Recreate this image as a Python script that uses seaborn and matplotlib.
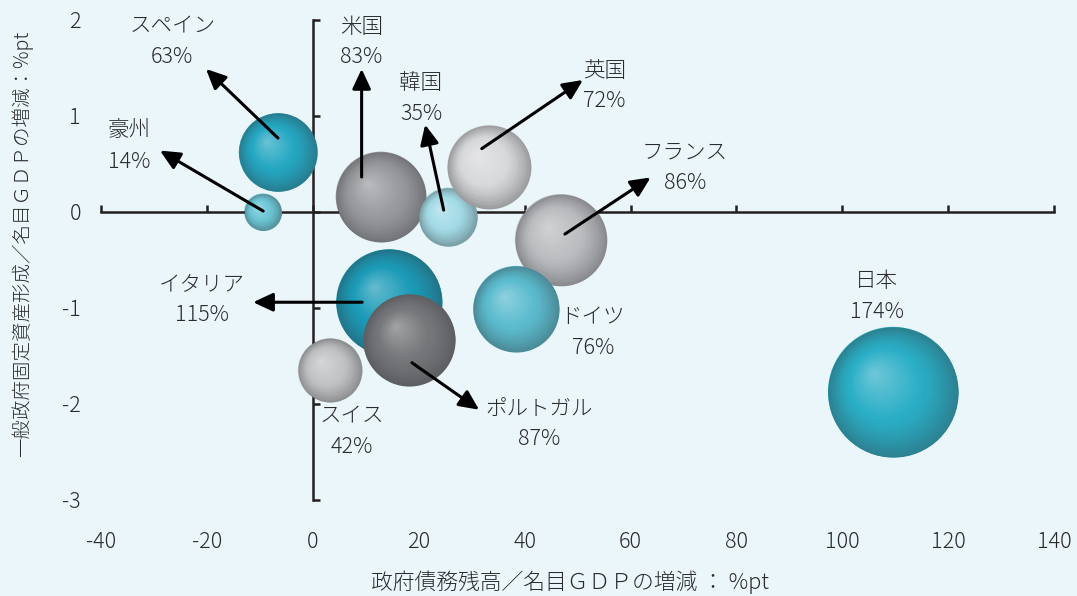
import matplotlib
matplotlib.use("Agg")
import matplotlib.pyplot as plt
from matplotlib.transforms import ScaledTranslation
from matplotlib.colors import to_rgb
import numpy as np
import pandas as pd
import seaborn as sns

# ---- data -------------------------------------------------------------
countries = ["豪州", "スペイン", "米国", "韓国", "英国", "フランス",
             "ドイツ", "イタリア", "スイス", "ポルトガル", "日本"]
# change in government debt / nominal GDP (%pt)
debt_change = [-9.5, -6.6, 12.8, 25.5, 33.3, 46.8, 38.4, 14.4, 3.2, 18.2, 109.6]
# change in general government fixed capital formation / nominal GDP (%pt)
capex_change = [0.0, 0.62, 0.16, -0.05, 0.47, -0.29, -1.01, -0.94, -1.65, -1.33, -1.875]
# government debt level (% of GDP), bubble area
debt_level = [14, 63, 83, 35, 72, 86, 76, 115, 42, 87, 174]

x_ticks = [-40, -20, 0, 20, 40, 60, 80, 100, 120, 140]
y_ticks = [-3, -2, -1, 0, 1, 2]

# label block centres and arrow (tail -> head) positions, in data units
label_pos = {
    "豪州": (-34.8, 0.68), "スペイン": (-26.6, 1.77), "米国": (9.1, 1.77),
    "韓国": (20.4, 1.18), "英国": (55.0, 1.31), "フランス": (70.3, 0.46),
    "ドイツ": (52.9, -1.255), "イタリア": (-21.0, -0.91), "スイス": (7.4, -2.29),
    "ポルトガル": (42.7, -2.21), "日本": (106.5, -0.88),
}
arrows = {
    "豪州": ((-9.4, 0.01), (-28.9, 0.64)),
    "スペイン": ((-6.6, 0.77), (-20.2, 1.49)),
    "米国": ((9.2, 0.365), (9.2, 1.49)),
    "韓国": ((24.7, 0.02), (21.2, 0.91)),
    "英国": ((31.9, 0.66), (51.0, 1.375)),
    "フランス": ((47.6, -0.23), (63.8, 0.36)),
    "イタリア": ((9.3, -0.94), (-11.3, -0.94)),
    "ポルトガル": ((18.7, -1.57), (31.4, -2.06)),
}

# ---- style ------------------------------------------------------------
BG = "#ebf6fa"
INK = "#231f20"
TEXT = "#2b2b2b"
FS = 15.5
base_colors = {
    "豪州": "#6cc5d5", "スペイン": "#24a7c2", "米国": "#9a9b9f",
    "韓国": "#a3dbe6", "英国": "#d8d9db", "フランス": "#bcbdc0",
    "ドイツ": "#5bbccf", "イタリア": "#1b9bb8", "スイス": "#c2c3c5",
    "ポルトガル": "#76777a", "日本": "#2aaec6",
}

sns.set_theme(style="white")
plt.rcParams["font.family"] = ["Noto Sans CJK JP", "DejaVu Sans"]
plt.rcParams["font.weight"] = "light"
plt.rcParams["axes.unicode_minus"] = False

df = pd.DataFrame({"country": countries, "debt_change": debt_change,
                   "capex_change": capex_change, "debt_level": debt_level})

W, H = 1077, 596
fig = plt.figure(figsize=(W / 100, H / 100), dpi=100, facecolor=BG)
ax = fig.add_axes([90.6 / W, 72 / H, 974 / W, 518.4 / H])
ax.set_facecolor(BG)
ax.set_xlim(-42, 142)
ax.set_ylim(-3.25, 2.15)

# flat discs sized by debt level (area proportional to the level)
area_per_pct = 50.6
vmax = max(debt_level)
sns.scatterplot(data=df, x="debt_change", y="capex_change", hue="country",
                palette=base_colors, size="debt_level",
                sizes=(0, vmax * area_per_pct), size_norm=(0, vmax),
                linewidth=0, legend=False, ax=ax, zorder=2)
disc = ax.collections[-1]
sizes = disc.get_sizes()


def mix(c, other, f):
    a, b = np.array(to_rgb(c)), np.array(to_rgb(other))
    return tuple(a * (1 - f) + b * f)


def shade(base, u):
    """u = 0 at the highlight, 1 at the rim."""
    hl = mix(base, "white", 0.33)
    rim = mix(mix(base, "#555b60", 0.25), "black", 0.16)
    if u < 0.55:
        return mix(hl, base, u / 0.55)
    return mix(base, rim, ((u - 0.55) / 0.45) ** 1.3)


# sphere shading: shrinking discs drifting toward an upper-left highlight
n_layers = 45
for i, name in enumerate(countries):
    s = sizes[i]
    r_pt = np.sqrt(s) / 2
    for t in np.linspace(0, 0.97, n_layers):
        shift = ScaledTranslation(-0.3 * r_pt * t / 72, 0.3 * r_pt * t / 72,
                                  fig.dpi_scale_trans)
        ax.scatter([debt_change[i]], [capex_change[i]], s=s * (1 - t) ** 2,
                   color=[shade(base_colors[name], 1 - t)], linewidths=0,
                   transform=ax.transData + shift, zorder=3)

# crossing axes through the origin
for side in ["top", "right"]:
    ax.spines[side].set_visible(False)
ax.spines["left"].set_position(("data", 0))
ax.spines["bottom"].set_position(("data", 0))
ax.spines["left"].set_bounds(-3, 2)
ax.spines["bottom"].set_bounds(-40, 140)
for side in ["left", "bottom"]:
    ax.spines[side].set_color(INK)
    ax.spines[side].set_linewidth(1.8)
ax.set_axisbelow(True)
ax.set_xticks(x_ticks)
ax.set_yticks(y_ticks)
ax.tick_params(direction="in", length=5, width=1.8, color=INK,
               bottom=True, left=True, labelbottom=False, labelleft=False)
ax.set_xlabel("")
ax.set_ylabel("")

# tick labels along the outer frame
secx = ax.secondary_xaxis("bottom")
secx.set_xticks(x_ticks)
secx.tick_params(length=0, pad=5, labelsize=FS, labelcolor=TEXT)
secx.spines["bottom"].set_visible(False)
secy = ax.secondary_yaxis("left")
secy.set_yticks(y_ticks)
secy.tick_params(length=0, pad=7, labelsize=FS, labelcolor=TEXT)
secy.spines["left"].set_visible(False)

# country labels and leader arrows
for name, level in zip(countries, debt_level):
    lx, ly = label_pos[name]
    ax.text(lx, ly, f"{name}\n{level}%", ha="center", va="center",
            fontsize=FS, linespacing=1.5, color=TEXT, zorder=6)
for name, (tail, head) in arrows.items():
    ax.annotate("", xy=head, xytext=tail, zorder=5,
                arrowprops=dict(arrowstyle="-|>,head_length=0.6,head_width=0.28",
                                color="black", lw=2.2, shrinkA=0, shrinkB=0,
                                mutation_scale=20))

fig.text(570 / W, 1 - 582 / H, "政府債務残高／名目ＧＤＰの増減 ： %pt",
         ha="center", va="center", fontsize=15.7, color=TEXT)
fig.text(22 / W, 1 - 244 / H, "一般政府固定資産形成／名目ＧＤＰの増減：%pt",
         ha="center", va="center", rotation=90, fontsize=14, color=TEXT)

fig.savefig("out.png", dpi=100, facecolor=BG)
